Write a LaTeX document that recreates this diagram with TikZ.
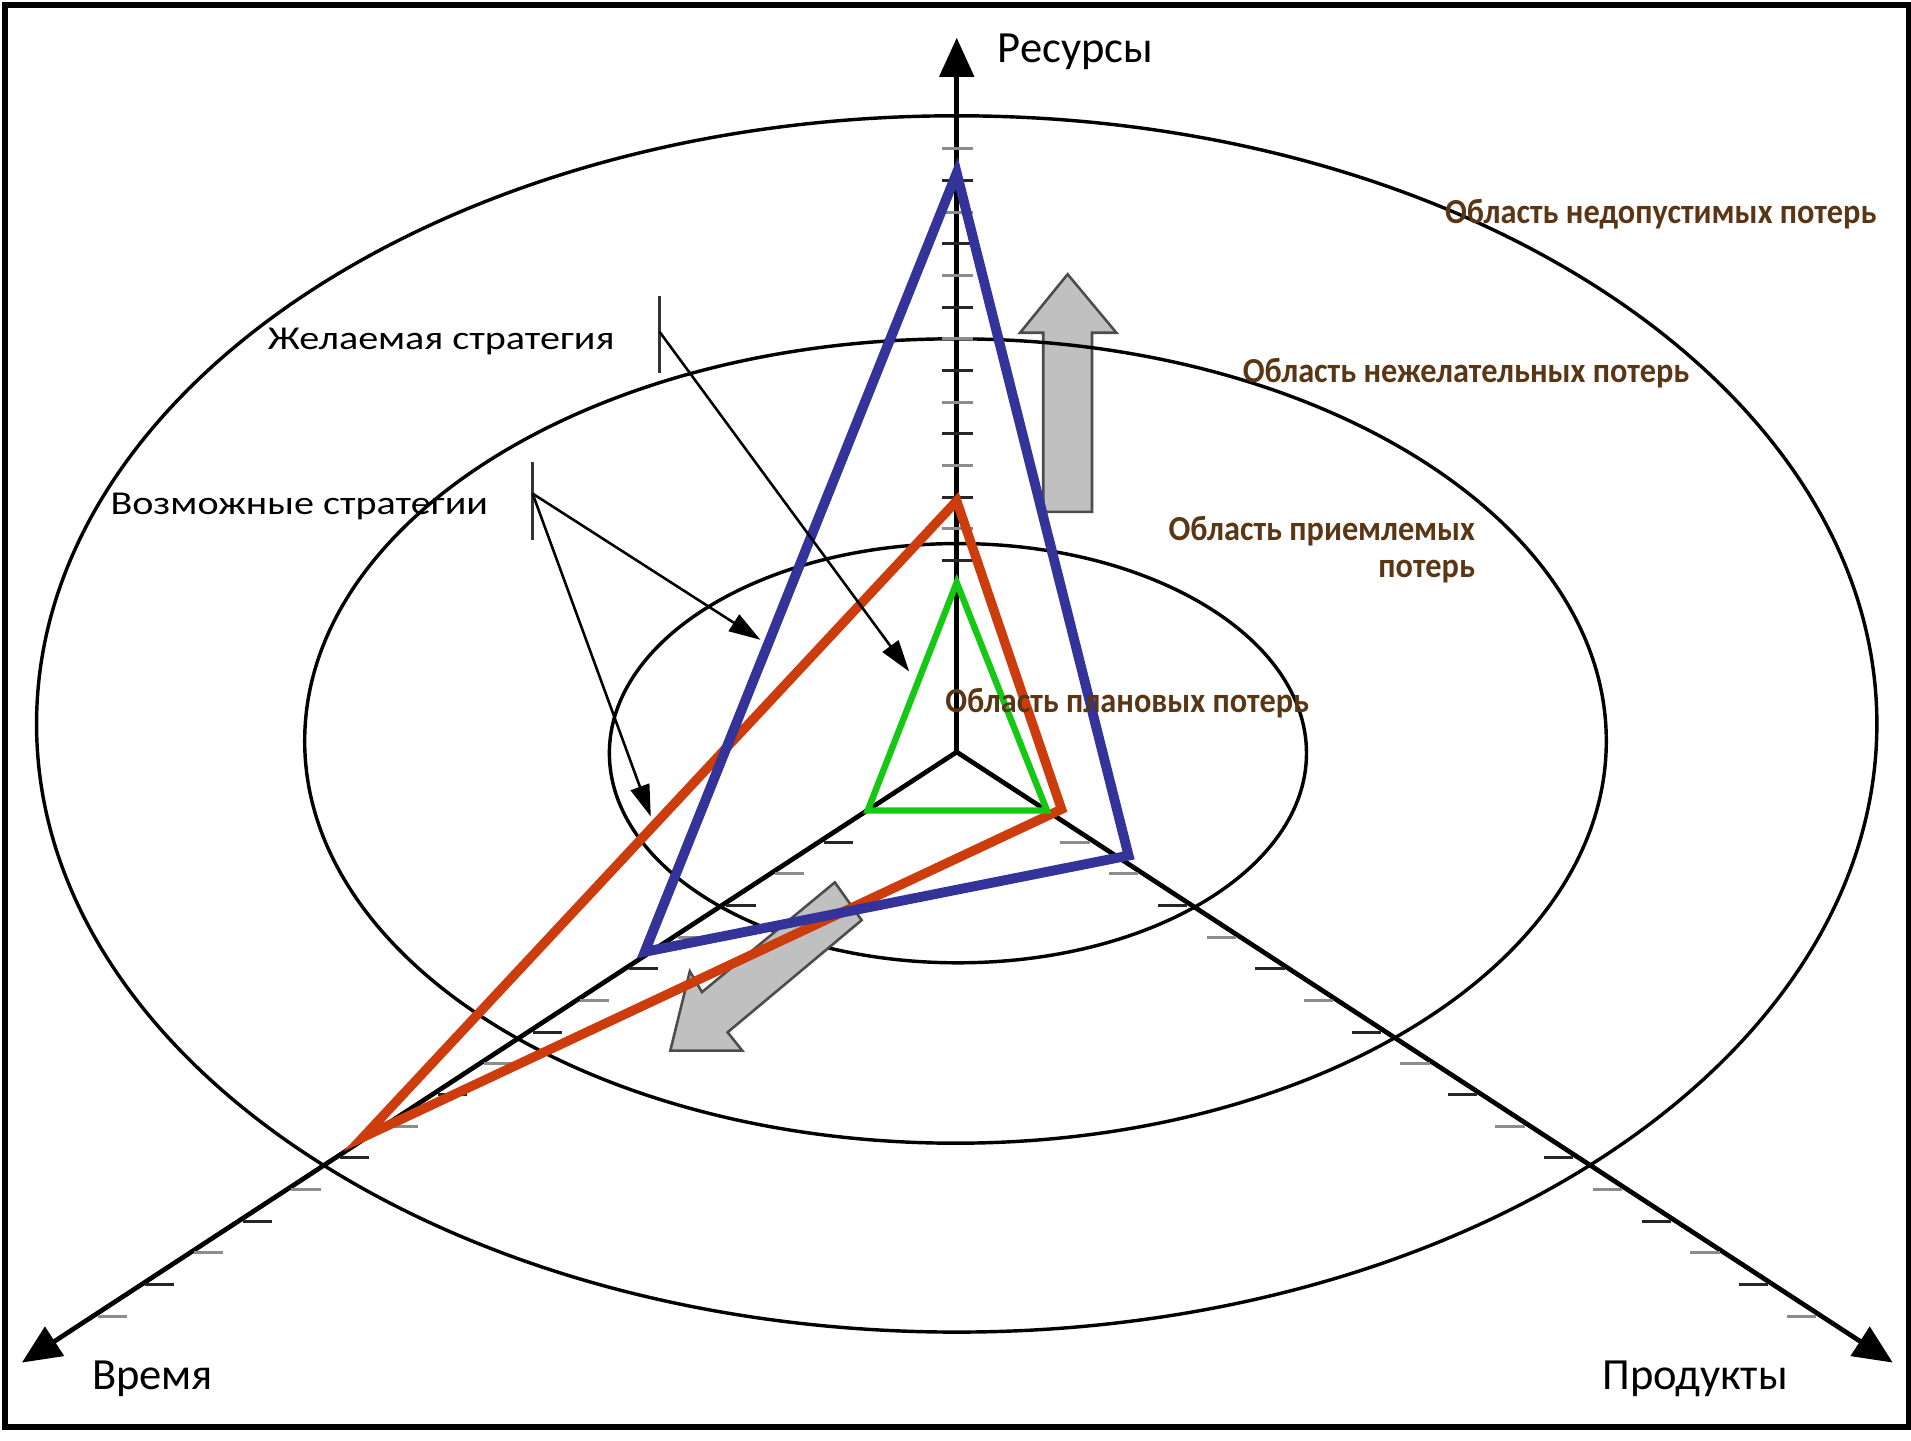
\documentclass[tikz,border=0pt]{standalone}
\usepackage{fontspec}
\setmainfont{Carlito}
\newfontfamily\calloutfont[FakeStretch=1.2]{Carlito}
\newfontfamily\zonefont[FakeStretch=0.92]{Carlito}
\usepackage{tikz}
\usetikzlibrary{arrows.meta}

\definecolor{planblue}{RGB}{51,51,153}
\definecolor{planred}{RGB}{204,60,12}
\definecolor{plangreen}{RGB}{20,200,20}
\definecolor{zonebrown}{RGB}{90,54,20}
\definecolor{arrowgray}{RGB}{192,192,192}

\tikzset{
  ring/.style={line width=0.8pt},
  axisline/.style={line width=1.1pt, -{Triangle[length=3.2mm,width=2.8mm]}},
  tickgray/.style={black!45, line width=0.7pt},
  tickdark/.style={black!85, line width=0.7pt},
  blockarrow/.style={fill=arrowgray, draw=black!70, line width=0.6pt, line join=miter},
  barline/.style={black!80, line width=0.6pt},
  callout/.style={line width=0.6pt, -{Triangle[length=2.6mm,width=1.6mm]}},
  axislbl/.style={inner sep=0, font=\fontsize{10.4}{12}\selectfont},
  calloutlbl/.style={inner sep=0, font=\calloutfont\fontsize{7.8}{9}\selectfont},
  zonelbl/.style={inner sep=0, text=zonebrown, font=\zonefont\bfseries\fontsize{8.2}{8.8}\selectfont}
}

\begin{document}
\begin{tikzpicture}[x=0.1mm, y=-0.1mm]
\useasboundingbox (0,0) rectangle (1568,1182);
\draw[line width=1.3pt] (4,4) rectangle (1566,1171);

% upward gray arrow
\draw[blockarrow] (856,420)--(856,273)--(837,273)--(876,225)--(916,273)--(896,273)--(896,420)--cycle;

% loss zones
\draw[ring] (785,594) ellipse [x radius=755, y radius=499];
\draw[ring] (784,608) ellipse [x radius=534, y radius=330];
\draw[ring] (786,618) ellipse [x radius=286, y radius=172];

% axes
\coordinate (O) at (785,617);
\coordinate (resend) at (785,31);
\coordinate (timeend) at (18,1118);
\coordinate (prodend) at (1553,1118);
\draw[axisline] (O)--(resend);
\draw[axisline] (O)--(timeend);
\draw[axisline] (O)--(prodend);

% ticks on the resource axis
\draw[tickgray] (773,122)--(798,122);
\draw[tickdark] (773,148)--(798,148);
\draw[tickgray] (773,174)--(798,174);
\draw[tickdark] (773,200)--(798,200);
\draw[tickgray] (773,226)--(798,226);
\draw[tickdark] (773,252)--(798,252);
\draw[tickgray] (773,278)--(798,278);
\draw[tickdark] (773,304)--(798,304);
\draw[tickgray] (773,330)--(798,330);
\draw[tickdark] (773,356)--(798,356);
\draw[tickgray] (773,382)--(798,382);
\draw[tickdark] (773,408)--(798,408);
\draw[tickgray] (773,434)--(798,434);
\draw[tickdark] (773,460)--(798,460);

% ticks on the time axis
\draw[tickdark] (676,691)--(700,691);
\draw[tickgray] (636,717)--(660,717);
\draw[tickdark] (596,743)--(620,743);
\draw[tickgray] (556,769)--(580,769);
\draw[tickdark] (516,795)--(540,795);
\draw[tickgray] (476,821)--(500,821);
\draw[tickdark] (437,847)--(461,847);
\draw[tickgray] (397,873)--(421,873);
\draw[tickdark] (359,898)--(383,898);
\draw[tickgray] (319,924)--(343,924);
\draw[tickdark] (279,950)--(303,950);
\draw[tickgray] (239,976)--(263,976);
\draw[tickdark] (199,1002)--(223,1002);
\draw[tickgray] (159,1028)--(183,1028);
\draw[tickdark] (119,1054)--(143,1054);
\draw[tickgray] (80,1080)--(104,1080);

% ticks on the product axis
\draw[tickgray] (870,691)--(894,691);
\draw[tickgray] (910,717)--(934,717);
\draw[tickdark] (950,743)--(974,743);
\draw[tickgray] (990,769)--(1014,769);
\draw[tickdark] (1030,795)--(1054,795);
\draw[tickgray] (1070,821)--(1094,821);
\draw[tickdark] (1109,847)--(1133,847);
\draw[tickgray] (1149,873)--(1173,873);
\draw[tickdark] (1188,898)--(1212,898);
\draw[tickgray] (1227,924)--(1251,924);
\draw[tickdark] (1267,950)--(1291,950);
\draw[tickgray] (1307,976)--(1331,976);
\draw[tickdark] (1347,1002)--(1371,1002);
\draw[tickgray] (1387,1028)--(1411,1028);
\draw[tickdark] (1427,1054)--(1451,1054);
\draw[tickgray] (1466,1080)--(1490,1080);

% down-left gray arrow
\draw[blockarrow] (685,724)--(576,814)--(566,797)--(550,862)--(609,862)--(597,847)--(707,755)--cycle;

% strategies
\draw[planred, line width=2.2pt, line join=miter] (785,411)--(298,933)--(871,664)--cycle;
\draw[planblue, line width=2.3pt, line join=miter] (785,142)--(529,781)--(926,702)--cycle;
\draw[plangreen, line width=1.5pt, line join=miter] (785,478)--(712,665)--(859,665)--cycle;

% callouts
\coordinate (wishtop) at (541,243);
\coordinate (wishbot) at (541,306);
\coordinate (wishfrom) at (541,272);
\coordinate (wishtip) at (746,551);
\coordinate (posstop) at (437,379);
\coordinate (possbot) at (437,443);
\coordinate (possfrom) at (437,405);
\coordinate (posstipa) at (624,525);
\coordinate (posstipb) at (534,670);
\draw[barline] (wishtop)--(wishbot);
\draw[barline] (posstop)--(possbot);
\draw[callout] (wishfrom)--(wishtip);
\draw[callout] (possfrom)--(posstipa);
\draw[callout] (possfrom)--(posstipb);

\node[calloutlbl, anchor=base west] (wish) at (219,287) {Желаемая стратегия};
\node[calloutlbl, anchor=base west] (poss) at (90,422) {Возможные стратегии};

% axis names
\node[axislbl, anchor=base west] (lblres) at (818,51) {Ресурсы};
\node[axislbl, anchor=base west] (lbltime) at (75,1140) {Время};
\node[axislbl, anchor=base west] (lblprod) at (1314,1140) {Продукты};

% zone names
\node[zonelbl, anchor=base west] (zoneout) at (1185,183) {Область недопустимых потерь};
\node[zonelbl, anchor=base west] (zonemid) at (1019,314) {Область нежелательных потерь};
\node[zonelbl, anchor=east, align=right] (zoneacc) at (1211,451) {Область приемлемых\\потерь};
\node[zonelbl, anchor=base west] (zoneplan) at (775,585) {Область плановых потерь};

\end{tikzpicture}
\end{document}
